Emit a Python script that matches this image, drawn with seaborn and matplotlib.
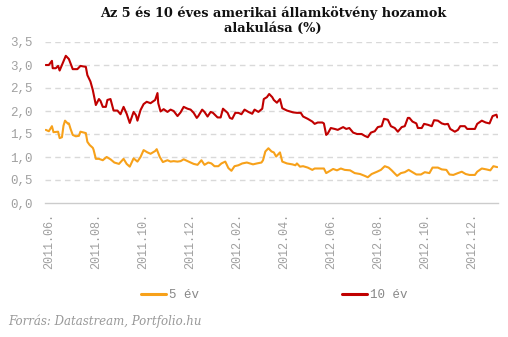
import matplotlib
matplotlib.use("Agg")
import matplotlib.pyplot as plt
import seaborn as sns
import pandas as pd
from matplotlib.lines import Line2D

# ---------------- data ----------------
dates_10y = [
    "2011-05-28", "2011-06-01", "2011-06-05", "2011-06-06", "2011-06-10", "2011-06-13", "2011-06-15",
    "2011-06-19", "2011-06-23", "2011-06-27", "2011-06-29", "2011-07-02", "2011-07-08", "2011-07-12",
    "2011-07-19", "2011-07-21", "2011-07-25", "2011-07-28", "2011-08-01", "2011-08-05", "2011-08-07",
    "2011-08-10", "2011-08-14", "2011-08-16", "2011-08-20", "2011-08-24", "2011-08-29", "2011-09-02",
    "2011-09-06", "2011-09-10", "2011-09-14", "2011-09-19", "2011-09-22", "2011-09-24", "2011-09-28",
    "2011-10-02", "2011-10-06", "2011-10-11", "2011-10-17", "2011-10-20", "2011-10-21", "2011-10-24",
    "2011-10-28", "2011-11-02", "2011-11-06", "2011-11-10", "2011-11-15", "2011-11-19", "2011-11-23",
    "2011-11-28", "2011-12-02", "2011-12-06", "2011-12-10", "2011-12-12", "2011-12-17", "2011-12-20",
    "2011-12-24", "2011-12-28", "2011-12-31", "2012-01-06", "2012-01-10", "2012-01-13", "2012-01-19",
    "2012-01-22", "2012-01-25", "2012-01-29", "2012-02-02", "2012-02-06", "2012-02-10", "2012-02-15",
    "2012-02-20", "2012-02-23", "2012-02-28", "2012-03-04", "2012-03-06", "2012-03-10", "2012-03-13",
    "2012-03-17", "2012-03-19", "2012-03-23", "2012-03-27", "2012-03-30", "2012-04-05", "2012-04-09",
    "2012-04-13", "2012-04-18", "2012-04-23", "2012-04-26", "2012-05-02", "2012-05-08", "2012-05-11",
    "2012-05-15", "2012-05-21", "2012-05-23", "2012-05-26", "2012-05-28", "2012-06-01", "2012-06-06",
    "2012-06-10", "2012-06-17", "2012-06-21", "2012-06-25", "2012-06-30", "2012-07-05", "2012-07-11",
    "2012-07-15", "2012-07-19", "2012-07-23", "2012-07-28", "2012-08-01", "2012-08-06", "2012-08-09",
    "2012-08-14", "2012-08-18", "2012-08-23", "2012-08-27", "2012-09-01", "2012-09-05", "2012-09-09",
    "2012-09-11", "2012-09-15", "2012-09-20", "2012-09-22", "2012-09-27", "2012-09-30", "2012-10-05",
    "2012-10-10", "2012-10-13", "2012-10-18", "2012-10-23", "2012-10-27", "2012-10-31", "2012-11-03",
    "2012-11-09", "2012-11-13", "2012-11-16", "2012-11-22", "2012-11-25", "2012-12-01", "2012-12-05",
    "2012-12-08", "2012-12-14", "2012-12-19", "2012-12-24", "2012-12-28", "2013-01-02", "2013-01-03",
]
yield_10y = [
    3.00, 3.00, 3.09, 2.93, 2.93, 2.98, 2.88,
    3.04, 3.20, 3.13, 3.04, 2.91, 2.91, 2.98,
    2.96, 2.78, 2.64, 2.46, 2.13, 2.26, 2.22,
    2.09, 2.09, 2.24, 2.26, 2.01, 2.01, 1.93,
    2.09, 1.94, 1.74, 1.98, 1.91, 1.79, 2.02,
    2.15, 2.20, 2.17, 2.24, 2.39, 2.17, 1.99,
    2.04, 1.98, 2.03, 2.00, 1.89, 1.97, 2.09,
    2.05, 2.03, 1.96, 1.85, 1.89, 2.03, 1.98,
    1.88, 1.98, 1.96, 1.86, 1.86, 2.05, 1.96,
    1.85, 1.83, 1.96, 1.96, 1.93, 2.03, 1.98,
    1.94, 2.03, 1.98, 2.05, 2.26, 2.30, 2.37,
    2.30, 2.24, 2.18, 2.26, 2.06, 2.01, 1.99,
    1.97, 1.96, 1.96, 1.88, 1.83, 1.77, 1.72,
    1.75, 1.75, 1.73, 1.48, 1.51, 1.63, 1.61,
    1.59, 1.65, 1.61, 1.63, 1.53, 1.50, 1.50,
    1.46, 1.43, 1.53, 1.56, 1.65, 1.67, 1.83,
    1.81, 1.67, 1.63, 1.55, 1.65, 1.67, 1.85,
    1.85, 1.77, 1.73, 1.63, 1.63, 1.72, 1.70,
    1.67, 1.80, 1.79, 1.73, 1.71, 1.72, 1.61,
    1.55, 1.59, 1.67, 1.67, 1.61, 1.61, 1.61,
    1.72, 1.79, 1.75, 1.73, 1.89, 1.92, 1.86,
]

dates_5y = [
    "2011-05-28", "2011-06-01", "2011-06-05", "2011-06-07", "2011-06-13", "2011-06-15", "2011-06-18",
    "2011-06-20", "2011-06-22", "2011-06-26", "2011-06-27", "2011-06-29", "2011-07-02", "2011-07-06",
    "2011-07-10", "2011-07-12", "2011-07-19", "2011-07-21", "2011-07-24", "2011-07-28", "2011-07-29",
    "2011-08-01", "2011-08-05", "2011-08-10", "2011-08-15", "2011-08-20", "2011-08-25", "2011-08-31",
    "2011-09-06", "2011-09-10", "2011-09-14", "2011-09-19", "2011-09-24", "2011-09-28", "2011-10-02",
    "2011-10-07", "2011-10-11", "2011-10-17", "2011-10-19", "2011-10-23", "2011-10-27", "2011-11-02",
    "2011-11-06", "2011-11-10", "2011-11-15", "2011-11-19", "2011-11-23", "2011-11-28", "2011-12-02",
    "2011-12-06", "2011-12-11", "2011-12-16", "2011-12-20", "2011-12-25", "2011-12-29", "2012-01-02",
    "2012-01-07", "2012-01-11", "2012-01-16", "2012-01-20", "2012-01-24", "2012-01-28", "2012-02-02",
    "2012-02-07", "2012-02-13", "2012-02-17", "2012-02-21", "2012-02-26", "2012-03-03", "2012-03-05",
    "2012-03-08", "2012-03-12", "2012-03-16", "2012-03-19", "2012-03-22", "2012-03-27", "2012-03-30",
    "2012-04-05", "2012-04-12", "2012-04-16", "2012-04-18", "2012-04-22", "2012-04-26", "2012-05-02",
    "2012-05-08", "2012-05-11", "2012-05-18", "2012-05-23", "2012-05-26", "2012-05-31", "2012-06-04",
    "2012-06-09", "2012-06-14", "2012-06-19", "2012-06-26", "2012-07-02", "2012-07-09", "2012-07-15",
    "2012-07-19", "2012-07-24", "2012-07-31", "2012-08-05", "2012-08-10", "2012-08-15", "2012-08-19",
    "2012-08-26", "2012-08-31", "2012-09-05", "2012-09-10", "2012-09-14", "2012-09-20", "2012-09-26",
    "2012-10-01", "2012-10-07", "2012-10-11", "2012-10-18", "2012-10-23", "2012-10-29", "2012-11-02",
    "2012-11-07", "2012-11-13", "2012-11-18", "2012-11-23", "2012-11-28", "2012-12-05", "2012-12-08",
    "2012-12-14", "2012-12-20", "2012-12-25", "2012-12-29", "2013-01-03",
]
yield_5y = [
    1.59, 1.56, 1.67, 1.54, 1.55, 1.41, 1.43,
    1.68, 1.79, 1.72, 1.73, 1.62, 1.48, 1.45,
    1.46, 1.55, 1.52, 1.33, 1.26, 1.20, 1.16,
    0.96, 0.96, 0.93, 1.00, 0.95, 0.88, 0.85,
    0.96, 0.85, 0.79, 0.97, 0.90, 1.00, 1.15,
    1.10, 1.07, 1.13, 1.17, 1.00, 0.89, 0.93,
    0.90, 0.91, 0.90, 0.91, 0.95, 0.91, 0.88,
    0.85, 0.83, 0.93, 0.83, 0.88, 0.86, 0.80,
    0.80, 0.86, 0.90, 0.76, 0.70, 0.80, 0.82,
    0.86, 0.88, 0.86, 0.84, 0.86, 0.88, 0.93,
    1.12, 1.19, 1.12, 1.10, 1.01, 1.10, 0.90,
    0.86, 0.84, 0.82, 0.86, 0.79, 0.80, 0.77,
    0.72, 0.75, 0.75, 0.75, 0.65, 0.70, 0.74,
    0.71, 0.75, 0.72, 0.71, 0.65, 0.63, 0.59,
    0.56, 0.63, 0.68, 0.72, 0.80, 0.77, 0.71,
    0.59, 0.65, 0.67, 0.72, 0.68, 0.62, 0.62,
    0.67, 0.65, 0.77, 0.77, 0.73, 0.72, 0.62,
    0.61, 0.65, 0.68, 0.63, 0.61, 0.61, 0.68,
    0.75, 0.73, 0.71, 0.80, 0.78,
]

series_names = ["5 év", "10 év"]
series_colors = ["#F7A11A", "#C00000"]
tick_dates = ["2011-06-01", "2011-08-01", "2011-10-01", "2011-12-01", "2012-02-01",
              "2012-04-01", "2012-06-01", "2012-08-01", "2012-10-01", "2012-12-01"]
tick_labels = ["2011.06.", "2011.08.", "2011.10.", "2011.12.", "2012.02.",
               "2012.04.", "2012.06.", "2012.08.", "2012.10.", "2012.12."]
y_ticks = [0.0, 0.5, 1.0, 1.5, 2.0, 2.5, 3.0, 3.5]
y_labels = ["0,0", "0,5", "1,0", "1,5", "2,0", "2,5", "3,0", "3,5"]
title = "Az 5 és 10 éves amerikai államkötvény hozamok\nalakulása (%)"
source = "Forrás: Datastream, Portfolio.hu"

# ---------------- frame ----------------
df = pd.concat([
    pd.DataFrame({"date": pd.to_datetime(dates_5y), "value": yield_5y, "series": series_names[0]}),
    pd.DataFrame({"date": pd.to_datetime(dates_10y), "value": yield_10y, "series": series_names[1]}),
], ignore_index=True)

sns.set_theme(style="white")
plt.rcParams["font.family"] = ["DejaVu Sans"]

fig = plt.figure(figsize=(5.08, 3.37), dpi=100)
ax = fig.add_axes([45 / 508, 1 - 203 / 337, 453 / 508, 161 / 337])

sns.lineplot(data=df, x="date", y="value", hue="series", palette=series_colors,
             hue_order=series_names, linewidth=1.5, ax=ax, legend=False)

ax.set_ylim(0, 3.5)
ax.set_xlim(pd.Timestamp("2011-05-27"), pd.Timestamp("2013-01-04"))
ax.set_yticks(y_ticks)
ax.set_yticklabels(y_labels)
ax.set_xticks(pd.to_datetime(tick_dates))
ax.set_xticklabels(tick_labels, rotation=90)
ax.set_xlabel("")
ax.set_ylabel("")

mono = "Liberation Mono"
for lab in ax.get_yticklabels():
    lab.set_fontfamily(mono)
    lab.set_fontsize(9)
    lab.set_color("#A0A0A0")
for lab in ax.get_xticklabels():
    lab.set_fontfamily(mono)
    lab.set_fontsize(8.5)
    lab.set_color("#A0A0A0")
ax.tick_params(axis="both", length=0)
ax.tick_params(axis="y", pad=9)
ax.tick_params(axis="x", pad=7)

for y in y_ticks[1:]:
    ax.axhline(y, color="#D9D9D9", linewidth=1, linestyle=(0, (4, 3)), zorder=0)
for s in ["top", "right", "left"]:
    ax.spines[s].set_visible(False)
ax.spines["bottom"].set_color("#CCCCCC")
ax.spines["bottom"].set_linewidth(1)

fig.text(0.537, 0.982, title, ha="center", va="top", fontsize=9.3,
         fontweight="bold", family="DejaVu Serif", color="#111111", linespacing=1.2)

handles = [Line2D([], [], color=c, linewidth=2.2) for c in series_colors]
leg = fig.legend(handles, series_names, loc="center", bbox_to_anchor=(0.54, 1 - 295 / 337),
                 ncol=2, frameon=False, handlelength=2.0, handletextpad=0.2,
                 columnspacing=11.5, prop={"family": mono, "size": 9})
for t in leg.get_texts():
    t.set_color("#888888")

fig.text(8 / 508, 1 - 321 / 337, source, ha="left", va="center", fontsize=8.5,
         style="italic", family="DejaVu Serif", color="#999999")

fig.savefig("out.png", dpi=100)
